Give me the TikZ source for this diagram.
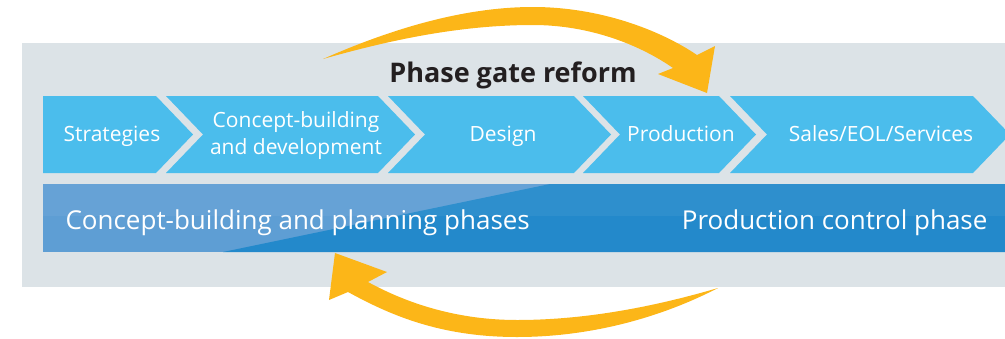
\documentclass[tikz,border=0pt]{standalone}
\usepackage{fontspec}
\setmainfont{Open Sans}
\definecolor{panelgray}{HTML}{DCE3E7}
\definecolor{chevblue}{HTML}{4BBDEC}
\definecolor{barlight}{HTML}{5E9ED4}
\definecolor{bardark}{HTML}{2389CB}
\definecolor{gateorange}{HTML}{FCB618}
\definecolor{titleink}{HTML}{231F20}
\begin{document}
\begin{tikzpicture}[x=1pt,y=-1pt,
    chevtext/.style={text=white,font=\fontsize{21}{27}\selectfont,align=center,anchor=base},
    bartext/.style={text=white,font=\fontsize{26}{30}\selectfont},
    gatearrow/.style={fill=gateorange}]
    \useasboundingbox (0,0) rectangle (1005,338);
    \clip (0,0) rectangle (1005,338);
    \fill[panelgray] (22,43) rectangle (1005,287);
    % process chevrons
    \fill[chevblue] (43,96) -- (156,96) -- (193,134.5) -- (156,173) -- (43,173) -- cycle;
    \foreach \l/\r in {166/378,388/574,583/719,730/973} {
      \fill[chevblue] (\l,96) -- (\r,96) -- (\r+37,134.5) -- (\r,173) -- (\l,173) -- (\l+37,134.5) -- cycle;
    }
    \node[chevtext] (strategies) at (112,141) {Strategies};
    \node[chevtext,anchor=center] (concept) at (296,136) {Concept-building\\and development};
    \node[chevtext] (design) at (503,141) {Design};
    \node[chevtext] (production) at (681,141) {Production};
    \node[chevtext] (sales) at (881,141) {Sales/EOL/Services};
    % phase bar
    \fill[barlight] (43,184) rectangle (1005,252);
    \fill[bardark] (223,252) -- (550,184) -- (1005,184) -- (1005,252) -- cycle;
    \fill[white,opacity=0.05] (43,184) rectangle (1005,216);
    \node[bartext,anchor=base west] (planning) at (62,229) {Concept-building and planning phases};
    \node[bartext,anchor=base east] (control) at (991,229) {Production control phase};
    \node[font=\bfseries\fontsize{27}{30}\selectfont,text=titleink,anchor=base] (title) at (513,82) {Phase gate reform};
    % reform arrows
    \fill[gatearrow] (323,59) .. controls (400,25) and (470,7) .. (533,7)
      .. controls (600,7) and (660,30) .. (697,55) -- (715,46) -- (707,93) -- (658,74) -- (673,68)
      .. controls (640,45) and (590,25) .. (533,25) .. controls (460,25) and (390,40) .. (323,59) -- cycle;
    \fill[gatearrow] (718,288) .. controls (660,318) and (590,337) .. (517,337)
      .. controls (440,337) and (390,315) .. (348,292) -- (329,300) -- (335,253) -- (387,272) -- (368,282)
      .. controls (410,305) and (460,320) .. (517,320) .. controls (590,320) and (660,305) .. (718,288) -- cycle;
  \end{tikzpicture}
\end{document}
